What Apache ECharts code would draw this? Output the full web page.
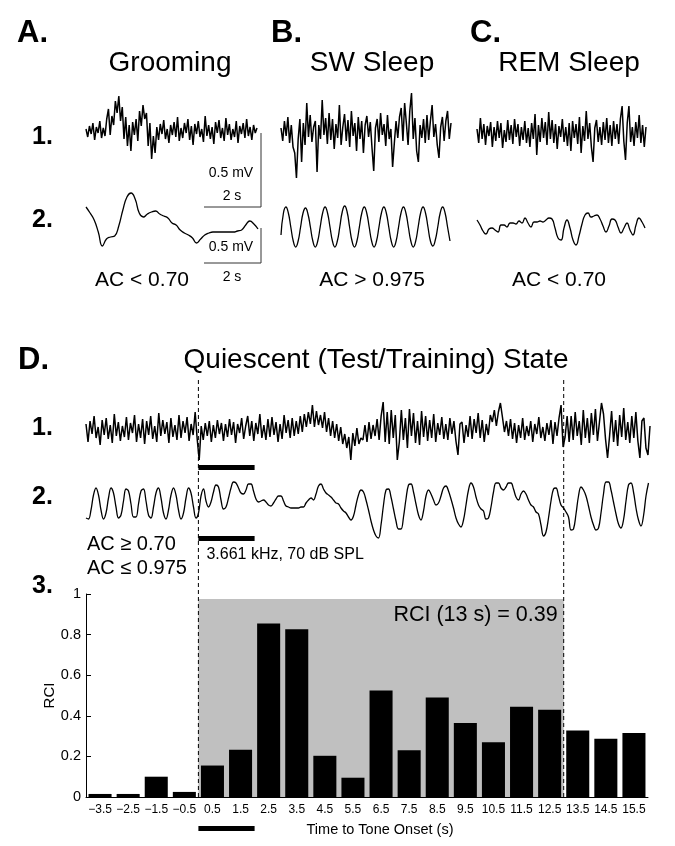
<!DOCTYPE html>
<html>
<head>
<meta charset="utf-8">
<script src="https://cdn.jsdelivr.net/npm/echarts@6/dist/echarts.min.js"></script>
<style>
html, body { margin: 0; padding: 0; background: #fff; }
#echarts { width: 675px; height: 846px; }
</style>
</head>
<body>
<div id="echarts"></div>
<script>
// RCI per 1 s bin, centred on these times (s)
var timeBins = [-3.5, -2.5, -1.5, -0.5, 0.5, 1.5, 2.5, 3.5, 4.5, 5.5, 6.5, 7.5, 8.5, 9.5, 10.5, 11.5, 12.5, 13.5, 14.5, 15.5];
var rciValues = [0.015, 0.015, 0.10, 0.025, 0.155, 0.233, 0.855, 0.826, 0.203, 0.095, 0.525, 0.23, 0.49, 0.364, 0.27, 0.445, 0.43, 0.328, 0.287, 0.315];
var rciWindow = [0, 13];      // s, shaded
var rciTop = 0.975;
var toneWindow = [0, 2];      // s, tone on
var timeRange = [-4, 16];

// traces (amplitude in arbitrary units)
var groomRaw = [2,-6,5,-3,8,-9,4,-2,10,-7,3,-5,12,
  22,-4,15,6, 30,18,35,10,24,
  -8,14,-15,6,-20,9,-4,12,-10,
  20,5,26,12,18, -15,8,-28,-5,-22,
  4,-9,7,-3,11,-8,2,-12,6,-4, 9,-6,14,-10,3,-7,8,-2,12,-9,
  5,-14,7,-3,10,-6,2,-11,15,-5, 6,-8,4,-13,9,-2,11,-7,3,-10,
  13,-4,7,-9,2,-6,10,-12,5,-3, 8,-7,12,-5,4,-9,6,-2,3];
var swRaw = [5,-8,12,-3,16,-10,8,-14,-20,-45, -6,14,-29,10,-12,30,-4,18,-9,6,
  12,-39,8,-6,33,-2,15,-11,20,-7, 14,-16,9,-5,28,-12,6,19,-8,13,
  -14,22,-3,10,-18,16,-6,12,-20,8, 17,-4,11,-15,-38,5,14,-9,20,-2,
  9,-13,18,-6,4,-34,-10,12,-5,16, 25,-8,30,10,-12,22,40,-6,15,-18,
  -29,8,-5,14,-10,18,-7,12,28,-4, 9,-12,-25,6,16,-8,12,22,-6,10];
var remRaw = [4,-10,15,-6,9,-12,7,-3,11,-14, 6,-8,12,-5,10,-15,3,-9,13,-7,
  8,-11,14,-4,9,-13,6,-7,12,-10, 5,-14,10,-6,19,-22,8,-9,15,-5,
  11,-12,21,-6,13,-10,9,-16,7,-4, 14,-9,6,-13,10,-18,12,-5,9,-11,
  16,-20,7,-8,22,-6,10,-14,-29,5, 13,-9,6,-12,11,-7,15,-10,8,-13,
  12,-6,9,-11,14,27,-8,-27,10,27, -9,6,-13,11,-5,18,-10,8,-14,6];
var groomFilt = [13,7,0,-12,-26,-19,-17,-16,-6,10,23,27,21,7,3,6,8,9,6,4,2,-3,-5,-10,-13,-15,
  -18,-23,-19,-15,-13,-12,-12,-12,-12,-12,-12,-11,-10,-5,-1,-4,-9];
var swFilt = [-8,14,
  20,14,0,-14,-20,-14,0,14, 19,13,0,-14,-20,-14,0,14, 20,14,0,-14,-20,-14,0,15,
  21,15,0,-14,-20,-14,0,14, 20,14,0,-14,-20,-14,0,14, 20,14,0,-14,-20,-14,0,14,
  20,14,0,-14,-20,-14,0,14, 20,14,0,-14,-19,-13,0,14, 20,14,0,-14];
var remFilt = [8,3,-3,-6,-1,0,-2,-4,3,3,1,5,5,4,7,5,10,5,1,6,6,7,6,8,10,9,0,-10,-12,0,8,0,-12,-17,-8,
  4,13,15,11,12,13,9,2,-4,2,9,8,1,-5,0,5,-2,-7,3,10,6,0];
var quietRaw = [6,-12,9,-4,14,-8,3,-15,10,-5, 12,-9,5,-13,16,-6,8,-11,4,-7,
  13,-10,7,-3,15,-12,6,-8,11,-14, 9,-5,14,-9,4,-12,17,-6,10,-4,
  8,-13,12,-7,5,-10,15,-8,9,-3, 13,-11,6,-5,18,-9,-30,4,-10,7,
  -6,9,-12,5,-8,10,-4,7,-11,6, -7,11,-5,8,-13,6,-3,12,-9,4,
  14,-6,9,-11,7,-4,16,-8,5,-10, 11,-7,13,-5,8,-12,6,-9,15,-3,
  10,-8,12,-6,9,-4,14,-2,16,3, 18,6,25,3,19,5,15,2,18,-2,
  12,-6,9,-8,6,-11,3,-14,-4,-18, -7,-30,-3,-16,2,-14,-8,-10,5,-12,
  8,-9,5,-6,11,-10,14,28,-12,18, -14,20,-8,15,-30,-12,20,-10,12,-18,
  21,-6,17,-13,9,-15,19,-7,14,-11, 10,-8,16,-12,7,-5,13,-9,6,-10,
  12,-4,9,-11,-25,6,8,-13,5,-7, 14,-9,11,-3,17,-8,10,-12,6,-5,
  15,8,20,4,18,27,13,-2,9,-6, 11,-9,7,-13,5,-8,12,-10,4,-6,
  9,-12,6,-4,13,-8,3,-11,7,-5, 10,-14,8,-6,12,25,-17,-7,14,-12,
  14,-10,18,-6,9,-15,20,-8,12,-13, 17,-5,21,-11,8,27,16,-9,-28,-6,
  19,-12,10,-16,15,-7,22,-10,8,-13, 14,-8,18,-11,-28,9,12,-18,-25,4];
var quietFilt = [-10,-11,-2,13,20,13,-2,-11,-5,10, 20,15,1,-10,-7,7,19,17,4,-9,
  -9,4,17,19,7,-7,-10,1,15,20, 10,-5,-11,-2,13,20,13,-2,-11,-5,
  10,20,15,1,-10,-5,
  12,19,7,1,6,16,23,21,8,-1, 1,10,20,26,25,20,15,14,18,24,
  24,17,9,6,7,8,6,3,2,5, 9,12,12,7,2,1,0,0,0,0,
  1,1,5,8,10,8,14,22,24,19, 15,13,11,8,5,4,0,-3,-5,-9,
  -12,-8,3,13,18,16,8,-2,-13,-22, -28,-30,-17,3,18,19,11,-1,-13,-21,
  -21,-9,9,23,24,16,4,-7,-12,-3, 12,18,14,8,3,5,12,20,22,17,
  9,0,-10,-16,-19,-12,3,18,25,21, 11,3,-1,-3,-11,-10,1,16,25,25,
  20,18,21,25,25,19,11,8,14,17, 14,8,3,1,-4,-6,-17,-28,-24,-10,
  7,19,20,12,3,0,-4,-9,-22,-21, -6,12,21,18,12,2,-9,-17,-22,-20,
  -5,14,26,26,18,6,-6,-16,-20,-12, 7,23,25,16,0,-12,-18,-8,12,25];

window.onload = function () {
    var font = "'Liberation Sans', Arial, sans-serif";
    // where each trace sits: [data, left, width, centre y, half height, smooth]
    var traces = [
        [groomRaw, 86, 171, 131, 40, 0],
        [swRaw, 281, 170, 133, 48, 0],
        [remRaw, 477, 169, 133, 40, 0],
        [groomFilt, 86, 172, 220, 30, 0.5],
        [swFilt, 281, 169, 227, 25, 0.5],
        [remFilt, 477, 168, 228, 22, 0.5],
        [quietRaw, 86, 564, 430, 35, 0],
        [quietFilt, 86, 562.5, 508, 35, 0.4]
    ];

    var grids = [], xAxes = [], yAxes = [], series = [];
    traces.forEach(function (t, i) {
        grids.push({ left: t[1], width: t[2], top: t[3] - t[4], height: t[4] * 2 });
        xAxes.push({ gridIndex: i, type: 'value', min: 0, max: t[0].length - 1, show: false });
        yAxes.push({ gridIndex: i, type: 'value', min: -t[4], max: t[4], show: false });
        series.push({
            type: 'line', xAxisIndex: i, yAxisIndex: i, showSymbol: false, smooth: t[5] || false,
            lineStyle: { color: '#000', width: t[5] ? 1.3 : 1.5 },
            data: t[0].map(function (v, k) { return [k, v]; })
        });
    });

    // RCI bar chart (panel D3)
    var g = traces.length;
    grids.push({ left: 86, right: 27, top: 594, bottom: 49 });
    xAxes.push({
        gridIndex: g, type: 'category', data: timeBins.map(String),
        axisLine: { lineStyle: { color: '#000', width: 1 } },
        axisTick: { inside: true, length: 4, alignWithLabel: true, lineStyle: { color: '#000' } },
        axisLabel: { interval: 0, color: '#000', fontSize: 12, fontFamily: font, margin: 7,
            formatter: function (v) { return v.replace('-', '\u2212'); } },
        name: 'Time to Tone Onset (s)', nameLocation: 'middle', nameGap: 25,
        nameTextStyle: { color: '#000', fontSize: 14.5, fontFamily: font, padding: [0, 0, 0, 26] }
    });
    xAxes.push({ gridIndex: g, type: 'value', min: timeRange[0], max: timeRange[1], show: false });
    yAxes.push({
        gridIndex: g, type: 'value', min: 0, max: 1, interval: 0.2,
        splitLine: { show: false },
        axisLine: { show: true, onZero: false, lineStyle: { color: '#000', width: 1 } },
        axisTick: { show: true, inside: true, length: 5, lineStyle: { color: '#000' } },
        axisLabel: { color: '#000', fontSize: 14.5, fontFamily: font, margin: 5 },
        name: 'RCI', nameLocation: 'middle', nameGap: 29, nameMoveOverlap: false,
        nameTextStyle: { color: '#000', fontSize: 15, fontFamily: font }
    });
    series.push({
        type: 'bar', xAxisIndex: g, yAxisIndex: g, z: 3, barCategoryGap: '18%',
        itemStyle: { color: '#000' }, data: rciValues
    });
    series.push({
        type: 'line', xAxisIndex: g + 1, yAxisIndex: g, z: 1, showSymbol: false,
        lineStyle: { width: 0 }, data: [[rciWindow[0], 0]],
        markArea: {
            silent: true, itemStyle: { color: '#c0c0c0' },
            data: [[{ coord: [rciWindow[0], 0] }, { coord: [rciWindow[1], rciTop] }]]
        }
    });

    var mychart = echarts.init(document.getElementById('echarts'));
    mychart.setOption({
        animation: false,
        backgroundColor: '#fff',
        grid: grids, xAxis: xAxes, yAxis: yAxes, series: series
    });

    // annotations, placed from the time axis of the bar chart
    var px = function (t) { return mychart.convertToPixel({ xAxisIndex: g + 1 }, t); };
    var base = mychart.convertToPixel({ yAxisIndex: g }, 0);
    var xa = px(rciWindow[0]), xb = px(rciWindow[1]);
    var t0 = px(toneWindow[0]), t1 = px(toneWindow[1]);

    function txt(s, x, y, size, opt) {
        opt = opt || {};
        return { type: 'text', x: x, y: y, z: 10, style: {
            text: s, fill: '#000', align: opt.align || 'center', verticalAlign: 'middle',
            font: (opt.bold ? 'bold ' : '') + size + 'px ' + font } };
    }
    function line(x1, y1, x2, y2, dash, color) {
        return { type: 'line', z: 10, shape: { x1: x1, y1: y1, x2: x2, y2: y2 },
            style: { stroke: color || '#000', lineWidth: 1, lineDash: dash || null } };
    }
    function bar(y, h) {
        return { type: 'rect', z: 10, shape: { x: t0, y: y, width: t1 - t0, height: h }, style: { fill: '#000' } };
    }

    var gr = [
        txt('A.', 17, 33, 31, { bold: true, align: 'left' }),
        txt('B.', 271, 33, 31, { bold: true, align: 'left' }),
        txt('C.', 470, 33, 31, { bold: true, align: 'left' }),
        txt('Grooming', 170, 63, 28),
        txt('SW Sleep', 372, 63, 28),
        txt('REM Sleep', 569, 63, 28),
        txt('1.', 32, 137, 25, { bold: true, align: 'left' }),
        txt('2.', 32, 220, 25, { bold: true, align: 'left' }),
        txt('AC < 0.70', 142, 280, 21),
        txt('AC > 0.975', 372, 280, 21),
        txt('AC < 0.70', 559, 280, 21),
        // scale bars
        line(261, 133, 261, 207, null, '#333'),
        line(204, 207, 261, 207, null, '#333'),
        txt('0.5 mV', 231, 173, 14),
        txt('2 s', 232, 196, 14),
        line(261, 228, 261, 263, null, '#333'),
        line(204, 263, 261, 263, null, '#333'),
        txt('0.5 mV', 231, 247, 14),
        txt('2 s', 232, 277, 14),
        // panel D
        txt('D.', 18, 360, 31, { bold: true, align: 'left' }),
        txt('Quiescent (Test/Training) State', 376, 360, 28),
        txt('1.', 32, 428, 25, { bold: true, align: 'left' }),
        txt('2.', 32, 497, 25, { bold: true, align: 'left' }),
        txt('3.', 32, 586, 25, { bold: true, align: 'left' }),
        txt('AC \u2265 0.70', 87, 544, 20, { align: 'left' }),
        txt('AC \u2264 0.975', 87, 568, 20, { align: 'left' }),
        txt('3.661 kHz, 70 dB SPL', t0 + 8, 555, 16, { align: 'left' }),
        line(xa, 380, xa, base, [4, 3]),
        line(xb, 380, xb, base, [4, 3]),
        bar(465, 5), bar(536, 5), bar(826, 5),
        txt('RCI (13 s) = 0.39', xb - 6, 615, 21.5, { align: 'right' })
    ];
    mychart.setOption({ graphic: gr });
};
</script>
</body>
</html>
